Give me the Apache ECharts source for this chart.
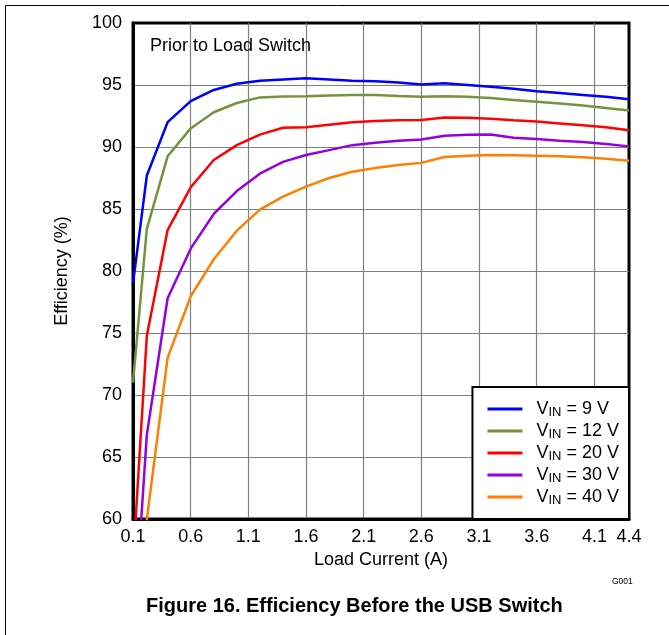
<!DOCTYPE html>
<html>
<head>
<meta charset="utf-8">
<script src="https://cdn.jsdelivr.net/npm/echarts@6/dist/echarts.min.js"></script>
<style>
  html, body { margin: 0; padding: 0; background: #fff; }
  #chart { width: 669px; height: 635px; }
</style>
</head>
<body>
<div id="chart"></div>
<script>
// load current (A)
var currents = [0.1, 0.22, 0.4, 0.6, 0.8, 1.0, 1.2, 1.4, 1.6, 1.8, 2.0, 2.2, 2.4, 2.6, 2.8, 3.0, 3.2, 3.4, 3.6, 3.8, 4.0, 4.2, 4.4]
// efficiency (%) per input voltage
var vin9  = [79.0, 87.7, 92.0, 93.7, 94.6, 95.1, 95.35, 95.45, 95.55, 95.45, 95.35, 95.3, 95.2, 95.05, 95.15, 95.0, 94.85, 94.7, 94.5, 94.35, 94.2, 94.05, 93.85]
var vin12 = [71.0, 83.4, 89.25, 91.5, 92.8, 93.55, 94.0, 94.07, 94.1, 94.15, 94.2, 94.2, 94.12, 94.05, 94.1, 94.05, 93.95, 93.8, 93.65, 93.5, 93.35, 93.15, 92.95]
var vin20 = [56.5, 74.8, 83.3, 86.75, 88.95, 90.15, 91.0, 91.55, 91.6, 91.8, 92.0, 92.1, 92.15, 92.18, 92.38, 92.35, 92.28, 92.15, 92.05, 91.9, 91.75, 91.6, 91.35]
var vin30 = [50.0, 66.8, 77.8, 81.8, 84.6, 86.45, 87.85, 88.8, 89.35, 89.75, 90.15, 90.35, 90.5, 90.6, 90.9, 90.98, 91.0, 90.75, 90.65, 90.5, 90.4, 90.25, 90.05]
var vin40 = [45.0, 60.0, 73.0, 77.95, 80.95, 83.25, 84.95, 86.0, 86.8, 87.5, 88.0, 88.3, 88.55, 88.72, 89.2, 89.3, 89.35, 89.33, 89.3, 89.25, 89.17, 89.05, 88.9]

var seriesNames = ['9 V', '12 V', '20 V', '30 V', '40 V']
var seriesValues = [vin9, vin12, vin20, vin30, vin40]
var colors = ['#0000ff', '#76923c', '#ff0000', '#9400e0', '#ff7f00']

var font = 'Liberation Sans, Arial, sans-serif'

var chart = echarts.init(document.getElementById('chart'))

var series = seriesNames.map(function (name, k) {
  return {
    name: name,
    type: 'line',
    symbol: 'none',
    clip: true,
    lineStyle: { width: 2.5, color: colors[k] },
    itemStyle: { color: colors[k] },
    data: currents.map(function (c, i) { return [c, seriesValues[k][i]] })
  }
})

var option = {
  animation: false,
  color: colors,
  textStyle: { fontFamily: font, color: '#000' },
  grid: {
    left: 133,
    right: 40,
    top: 23,
    bottom: 116,
    show: true,
    borderColor: '#000',
    borderWidth: 3,
    backgroundColor: 'transparent'
  },
  title: [
    {
      text: 'Prior to Load Switch',
      left: 150,
      top: 37,
      padding: 0,
      textStyle: { fontFamily: font, fontSize: 18, fontWeight: 'normal', color: '#000' }
    },
    {
      text: 'G001',
      left: 612,
      top: 577,
      padding: 0,
      textStyle: { fontFamily: font, fontSize: 8.5, fontWeight: 'normal', color: '#000' }
    },
    {
      text: 'Figure 16. Efficiency Before the USB Switch',
      left: 146,
      top: 596,
      padding: 0,
      textStyle: { fontFamily: font, fontSize: 20, fontWeight: 'bold', color: '#000' }
    }
  ],
  legend: {
    orient: 'vertical',
    right: 40,
    bottom: 116,
    padding: [12, 10, 12, 15],
    itemGap: 2,
    itemWidth: 35,
    itemHeight: 3,
    icon: 'rect',
    backgroundColor: '#fff',
    borderColor: '#000',
    borderWidth: 2,
    borderRadius: 0,
    data: seriesNames,
    formatter: function (name) {
      return '{g|}{v|V}{s|IN}{v| = ' + name + '}'
    },
    textStyle: {
      fontFamily: font,
      color: '#000',
      rich: {
        g: { width: 9, height: 19 },
        v: { fontFamily: font, fontSize: 18, lineHeight: 19, color: '#000' },
        s: { fontFamily: font, fontSize: 13, lineHeight: 12, padding: [7, 0, 0, 0], color: '#000' }
      }
    }
  },
  xAxis: {
    type: 'value',
    min: 0.1,
    max: 4.4,
    interval: 0.5,
    name: 'Load Current (A)',
    nameLocation: 'middle',
    nameGap: 31,
    nameTextStyle: { fontFamily: font, fontSize: 18, color: '#000' },
    axisLine: { show: true, lineStyle: { color: '#000', width: 3 } },
    axisTick: { show: false },
    axisLabel: {
      fontFamily: font,
      fontSize: 18,
      color: '#000',
      margin: 9,
      showMaxLabel: true,
      formatter: function (v) { return (+v).toFixed(1) }
    },
    splitLine: { show: true, showMinLine: false, showMaxLine: false, lineStyle: { color: '#7f7f7f', width: 1.2 } }
  },
  yAxis: {
    type: 'value',
    min: 60,
    max: 100,
    interval: 5,
    name: 'Efficiency (%)',
    nameLocation: 'middle',
    nameGap: 62,
    nameTextStyle: { fontFamily: font, fontSize: 18, color: '#000' },
    axisLine: { show: true, lineStyle: { color: '#000', width: 3 } },
    axisTick: { show: false },
    axisLabel: { fontFamily: font, fontSize: 18, color: '#000', margin: 11 },
    splitLine: { show: true, showMinLine: false, showMaxLine: false, lineStyle: { color: '#7f7f7f', width: 1.2 } }
  },
  graphic: [
    {
      type: 'rect',
      silent: true,
      shape: { x: 5.5, y: 5.5, width: 700, height: 700 },
      style: { fill: 'none', stroke: '#000', lineWidth: 1 }
    }
  ],
  series: series
}

chart.setOption(option)
</script>
</body>
</html>
